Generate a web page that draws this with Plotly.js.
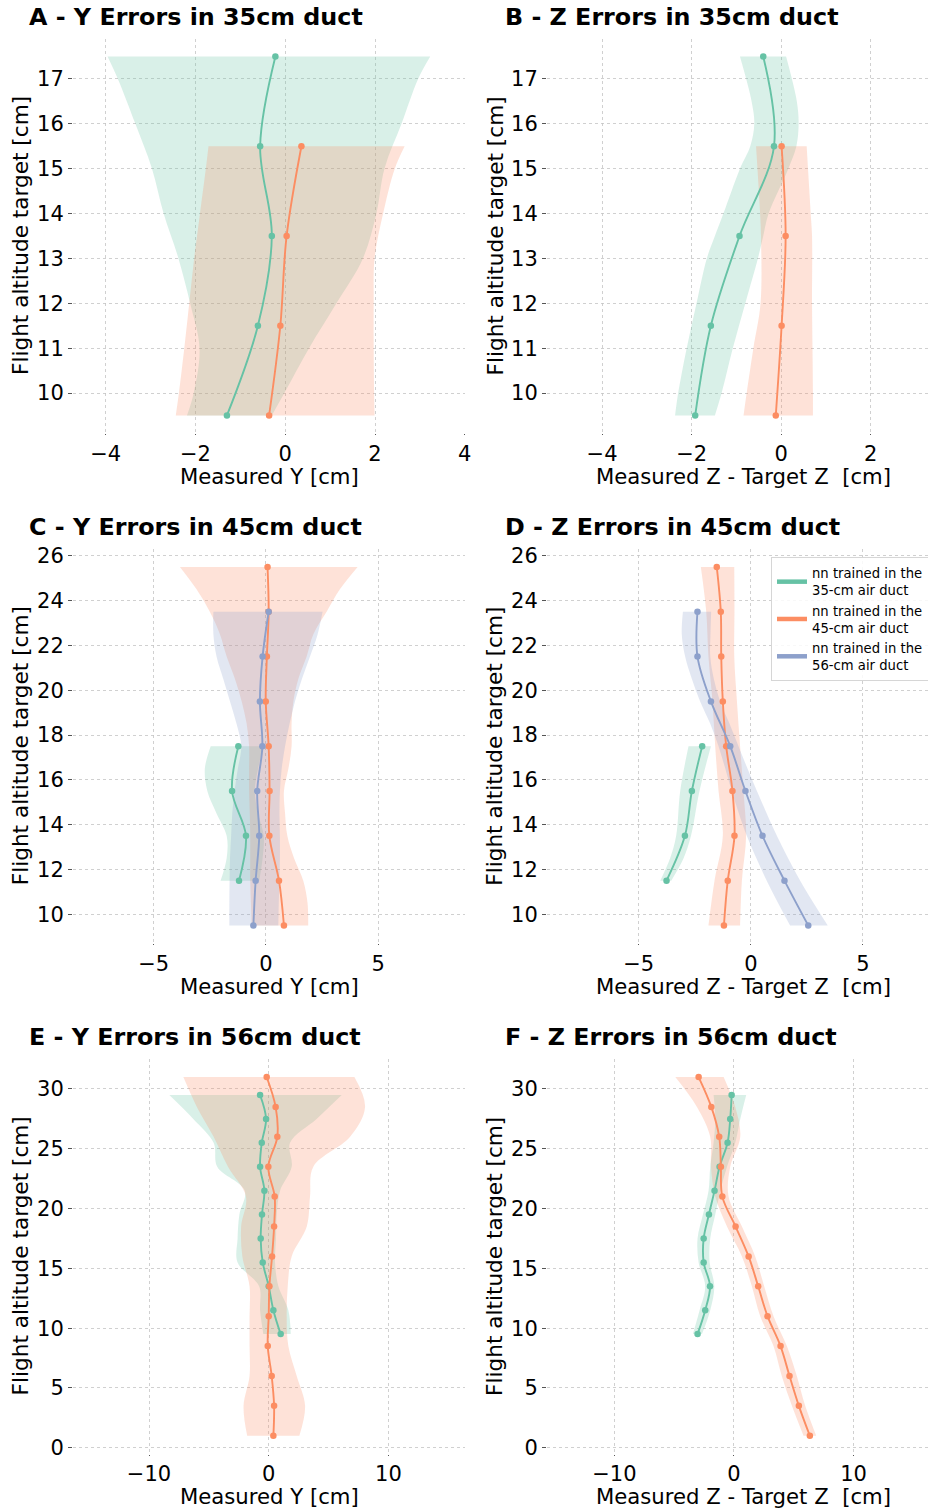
<!DOCTYPE html>
<html><head><meta charset="utf-8">
<script src="https://cdn.plot.ly/plotly-3.0.1.min.js"></script>
<style>html,body{margin:0;padding:0;background:#fff}#chart{width:928px;height:1510px}</style>
</head><body><div id="chart"></div>
<script>
// ---------- colours ----------
const GREEN = '#66c2a5', ORANGE = '#fc8d62', BLUE = '#8da0cb';
const GREEN_F = 'rgba(102,194,165,0.25)', ORANGE_F = 'rgba(252,141,98,0.25)', BLUE_F = 'rgba(141,160,203,0.25)';

// ---------- Panel A : Y errors, 35cm duct ----------
const A_green_y = [17.5, 15.5, 13.5, 11.5, 9.5];
const A_green_x = [-0.22, -0.56, -0.30, -0.61, -1.30];
const A_orange_y = [15.5, 13.5, 11.5, 9.5];
const A_orange_x = [0.36, 0.03, -0.11, -0.36];
const A_greenBand_y = [17.5, 17, 16, 15, 14, 13, 12, 11, 10, 9.5];
const A_greenBand_lo = [-3.96, -3.73, -3.34, -2.97, -2.71, -2.38, -2.12, -1.91, -2.04, -2.19];
const A_greenBand_hi = [3.23, 2.96, 2.59, 2.21, 2.03, 1.73, 1.14, 0.53, -0.02, -0.30];
const A_orangeBand_y = [15.5, 15, 14, 13, 12, 11, 10, 9.5];
const A_orangeBand_lo = [-1.71, -1.77, -1.90, -2.03, -2.14, -2.25, -2.37, -2.44];
const A_orangeBand_hi = [2.66, 2.44, 2.18, 1.99, 1.97, 1.97, 1.98, 1.99];

// ---------- Panel B : Z errors, 35cm duct ----------
const B_green_y = [17.5, 15.5, 13.5, 11.5, 9.5];
const B_green_x = [-0.40, -0.16, -0.93, -1.57, -1.92];
const B_orange_y = [15.5, 13.5, 11.5, 9.5];
const B_orange_x = [0.01, 0.10, 0.01, -0.12];
const B_greenBand_y = [17.5, 16.5, 16, 15.5, 15, 14, 13.5, 13, 12, 11, 10, 9.5];
const B_greenBand_lo = [-0.92, -0.66, -0.60, -0.69, -0.92, -1.29, -1.48, -1.66, -1.89, -2.11, -2.30, -2.37];
const B_greenBand_hi = [0.11, 0.35, 0.39, 0.34, 0.16, -0.28, -0.40, -0.52, -0.80, -1.08, -1.33, -1.48];
const B_orangeBand_y = [15.5, 14, 13.5, 12, 11, 10, 9.5];
const B_orangeBand_lo = [-0.56, -0.47, -0.45, -0.46, -0.62, -0.77, -0.84];
const B_orangeBand_hi = [0.57, 0.66, 0.69, 0.69, 0.70, 0.71, 0.71];

// ---------- Panel C : Y errors, 45cm duct ----------
const C_orange_y = [25.5, 23.5, 21.5, 19.5, 17.5, 15.5, 13.5, 11.5, 9.5];
const C_orange_x = [0.07, 0.12, 0.04, -0.01, 0.12, 0.16, 0.15, 0.58, 0.80];
const C_blue_y = [23.5, 21.5, 19.5, 17.5, 15.5, 13.5, 11.5, 9.5];
const C_blue_x = [0.12, -0.15, -0.27, -0.16, -0.39, -0.30, -0.46, -0.56];
const C_green_y = [17.5, 15.5, 13.5, 11.5];
const C_green_x = [-1.23, -1.51, -0.89, -1.20];
const C_orangeBand_y = [25.5, 24.5, 23.5, 22.5, 21.5, 20.5, 19.5, 18.5, 17.5, 16.5, 15.5, 14.5, 13.5, 12.5, 11.5, 10.5, 9.5];
const C_orangeBand_lo = [-3.83, -3.09, -2.50, -2.05, -1.75, -1.38, -1.08, -0.86, -0.75, -0.75, -0.75, -0.72, -0.70, -0.70, -0.70, -0.67, -0.64];
const C_orangeBand_hi = [4.08, 3.29, 2.70, 2.11, 1.81, 1.44, 1.22, 1.14, 1.14, 1.00, 0.80, 0.85, 0.95, 1.25, 1.66, 1.85, 1.88];
const C_blueBand_y = [23.5, 22.5, 21.5, 20.5, 19.5, 18.5, 17.5, 16.5, 15.5, 14.5, 13.5, 12.5, 11.5, 10.5, 9.5];
const C_blueBand_lo = [-2.34, -2.34, -2.20, -1.90, -1.60, -1.31, -1.10, -1.25, -1.40, -1.50, -1.55, -1.60, -1.62, -1.63, -1.63];
const C_blueBand_hi = [2.52, 2.30, 1.96, 1.60, 1.29, 1.05, 0.85, 0.70, 0.62, 0.60, 0.62, 0.62, 0.60, 0.57, 0.55];
const C_greenBand_y = [17.5, 16.5, 15.5, 14.5, 13.5, 12.5, 11.5];
const C_greenBand_lo = [-2.46, -2.72, -2.61, -2.20, -1.75, -1.75, -2.02];
const C_greenBand_hi = [-0.12, -0.35, -0.50, -0.35, -0.10, -0.15, -0.30];

// ---------- Panel D : Z errors, 45cm duct ----------
const D_orange_y = [25.5, 23.5, 21.5, 19.5, 17.5, 15.5, 13.5, 11.5, 9.5];
const D_orange_x = [-1.52, -1.34, -1.32, -1.25, -1.10, -0.82, -0.73, -1.03, -1.20];
const D_blue_y = [23.5, 21.5, 19.5, 17.5, 15.5, 13.5, 11.5, 9.5];
const D_blue_x = [-2.38, -2.38, -1.78, -0.92, -0.24, 0.52, 1.50, 2.56];
const D_green_y = [17.5, 15.5, 13.5, 11.5];
const D_green_x = [-2.17, -2.63, -2.94, -3.76];
const D_orangeBand_y = [25.5, 23.5, 21.5, 19.5, 17.5, 15.5, 13.5, 11.5, 9.5];
const D_orangeBand_lo = [-2.23, -1.99, -1.89, -1.71, -1.59, -1.44, -1.25, -1.62, -1.89];
const D_orangeBand_hi = [-0.74, -0.73, -0.74, -0.62, -0.48, -0.33, -0.21, -0.40, -0.48];
const D_blueBand_y = [23.5, 22.5, 21.5, 20.5, 19.5, 18.5, 17.5, 16.5, 15.5, 13.5, 11.5, 9.5];
const D_blueBand_lo = [-3.03, -3.08, -2.93, -2.63, -2.26, -1.81, -1.44, -1.14, -0.85, -0.18, 0.71, 1.75];
const D_blueBand_hi = [-1.77, -1.80, -1.81, -1.65, -1.37, -0.95, -0.55, -0.15, 0.27, 1.16, 2.20, 3.43];
const D_greenBand_y = [17.5, 15.5, 13.5, 12.5, 11.5];
const D_greenBand_lo = [-2.78, -3.15, -3.33, -3.60, -4.04];
const D_greenBand_hi = [-1.78, -2.29, -2.67, -3.00, -3.55];

// ---------- Panel E : Y errors, 56cm duct ----------
const E_orange_y = [31, 28.5, 26, 23.5, 21, 18.5, 16, 13.5, 11, 8.5, 6, 3.5, 1];
const E_orange_x = [-0.17, 0.58, 0.72, -0.03, 0.50, 0.45, 0.28, 0.06, 0.00, -0.08, 0.25, 0.45, 0.39];
const E_green_y = [29.5, 27.5, 25.5, 23.5, 21.5, 19.5, 17.5, 15.5, 13.5, 11.5, 9.5];
const E_green_x = [-0.72, -0.22, -0.58, -0.72, -0.36, -0.56, -0.67, -0.50, 0.00, 0.39, 1.00];
const E_orangeBand_lo = [-7.13, -6.0, -4.6, -3.4, -1.9, -2.3, -2.2, -1.6, -1.6, -1.6, -1.6, -2.1, -1.8];
const E_orangeBand_hi = [7.16, 8.05, 6.8, 3.73, 3.45, 3.18, 1.92, 1.59, 1.50, 1.64, 2.34, 3.04, 2.56];
const E_greenBand_lo = [-8.3, -6.3, -4.6, -4.3, -2.0, -2.45, -2.6, -2.6, -0.8, -0.72, -0.45];
const E_greenBand_hi = [6.1, 4.0, 1.78, 1.92, 0.95, 0.67, 0.61, 0.53, 0.81, 1.64, 1.84];

// ---------- Panel F : Z errors, 56cm duct ----------
const F_orange_y = [31, 28.5, 26, 23.5, 21, 18.5, 16, 13.5, 11, 8.5, 6, 3.5, 1];
const F_orange_x = [-2.95, -1.89, -1.23, -1.09, -0.97, 0.14, 1.23, 2.03, 2.81, 3.90, 4.65, 5.43, 6.35];
const F_green_y = [29.5, 27.5, 25.5, 23.5, 21.5, 19.5, 17.5, 15.5, 13.5, 11.5, 9.5];
const F_green_x = [-0.19, -0.31, -0.53, -1.20, -1.62, -2.09, -2.53, -2.53, -2.00, -2.40, -3.04];
const F_orangeBand_lo = [-4.9, -3.09, -1.98, -1.92, -1.56, -0.58, 0.67, 1.50, 2.20, 3.31, 4.00, 4.85, 5.82];
const F_orangeBand_hi = [-0.86, 0.11, 0.53, -0.31, -0.45, 0.67, 1.78, 2.53, 3.31, 4.43, 5.26, 5.96, 6.88];
const F_greenBand_lo = [-1.70, -1.56, -1.70, -1.98, -2.12, -2.59, -3.04, -2.95, -2.40, -2.87, -3.43];
const F_greenBand_hi = [1.03, 0.53, 0.11, -0.58, -1.14, -1.56, -1.98, -2.03, -1.64, -1.98, -2.67];

// ---------- text ----------
const panelTitles = ['A - Y Errors in 35cm duct', 'B - Z Errors in 35cm duct',
  'C - Y Errors in 45cm duct', 'D - Z Errors in 45cm duct',
  'E - Y Errors in 56cm duct', 'F - Z Errors in 56cm duct'];
const xLabels = ['Measured Y [cm]', 'Measured Z - Target Z  [cm]'];
const yLabel = 'Flight altitude target [cm]';
const legendNames = ['nn trained in the<br>35-cm air duct', 'nn trained in the<br>45-cm air duct', 'nn trained in the<br>56-cm air duct'];

// ---------- geometry ----------
const W = 928, H = 1510;
const fx = px => px / W;
const fy = px => 1 - px / H;
const colPx = [[73, 465], [547, 928]];
const rowPx = [[38.6, 433.4], [549.0, 943.4], [1059.1, 1453.7]];
const xRanges = [[-4.73, 4.005], [-5.23, 3.28], [-8.59, 8.86], [-9.09, 7.9], [-16.35, 16.4], [-15.63, 16.23]];
const yRanges = [[9.1, 17.9], [8.7, 26.3], [-0.5, 32.5]];
const xDticks = [2, 5, 10];
const yDticks = [1, 2, 5];

const traces = [];
function ax(i) { return i === 0 ? ['x', 'y'] : ['x' + (i + 1), 'y' + (i + 1)]; }
function band(i, ys, lo, hi, fill) {
  const [xa, ya] = ax(i);
  traces.push({ x: lo, y: ys, xaxis: xa, yaxis: ya, mode: 'lines', line: { width: 0, shape: 'spline', color: fill },
    showlegend: false, hoverinfo: 'skip' });
  traces.push({ x: hi, y: ys, xaxis: xa, yaxis: ya, mode: 'lines', line: { width: 0, shape: 'spline', color: fill },
    fill: 'tonextx', fillcolor: fill, showlegend: false, hoverinfo: 'skip' });
}
function line(i, xs, ys, color) {
  const [xa, ya] = ax(i);
  traces.push({ x: xs, y: ys, xaxis: xa, yaxis: ya, mode: 'lines+markers',
    line: { color: color, width: 1.9, shape: 'spline' }, marker: { color: color, size: 6.5 }, showlegend: false });
}

// bands
band(0, A_greenBand_y, A_greenBand_lo, A_greenBand_hi, GREEN_F);
band(0, A_orangeBand_y, A_orangeBand_lo, A_orangeBand_hi, ORANGE_F);
band(1, B_greenBand_y, B_greenBand_lo, B_greenBand_hi, GREEN_F);
band(1, B_orangeBand_y, B_orangeBand_lo, B_orangeBand_hi, ORANGE_F);
band(2, C_greenBand_y, C_greenBand_lo, C_greenBand_hi, GREEN_F);
band(2, C_orangeBand_y, C_orangeBand_lo, C_orangeBand_hi, ORANGE_F);
band(2, C_blueBand_y, C_blueBand_lo, C_blueBand_hi, BLUE_F);
band(3, D_greenBand_y, D_greenBand_lo, D_greenBand_hi, GREEN_F);
band(3, D_orangeBand_y, D_orangeBand_lo, D_orangeBand_hi, ORANGE_F);
band(3, D_blueBand_y, D_blueBand_lo, D_blueBand_hi, BLUE_F);
band(4, E_green_y, E_greenBand_lo, E_greenBand_hi, GREEN_F);
band(4, E_orange_y, E_orangeBand_lo, E_orangeBand_hi, ORANGE_F);
band(5, F_green_y, F_greenBand_lo, F_greenBand_hi, GREEN_F);
band(5, F_orange_y, F_orangeBand_lo, F_orangeBand_hi, ORANGE_F);
// lines
line(0, A_green_x, A_green_y, GREEN); line(0, A_orange_x, A_orange_y, ORANGE);
line(1, B_green_x, B_green_y, GREEN); line(1, B_orange_x, B_orange_y, ORANGE);
line(2, C_green_x, C_green_y, GREEN); line(2, C_orange_x, C_orange_y, ORANGE); line(2, C_blue_x, C_blue_y, BLUE);
line(3, D_green_x, D_green_y, GREEN); line(3, D_orange_x, D_orange_y, ORANGE); line(3, D_blue_x, D_blue_y, BLUE);
line(4, E_green_x, E_green_y, GREEN); line(4, E_orange_x, E_orange_y, ORANGE);
line(5, F_green_x, F_green_y, GREEN); line(5, F_orange_x, F_orange_y, ORANGE);
// legend entries (panel D)
[GREEN, ORANGE, BLUE].forEach((c, k) => {
  traces.push({ x: [null], y: [null], xaxis: 'x4', yaxis: 'y4', mode: 'lines', name: legendNames[k],
    line: { color: c, width: 4.5 }, showlegend: true, hoverinfo: 'skip' });
});

const FONT = 'DejaVu Sans, Verdana, sans-serif';
const layout = {
  width: W, height: H, paper_bgcolor: '#fff', plot_bgcolor: 'rgba(0,0,0,0)',
  margin: { l: 0, r: 0, t: 0, b: 0, pad: 0, autoexpand: false },
  font: { family: FONT, color: '#000', size: 21 },
  showlegend: true,
  legend: { x: fx(771), y: fy(557), xanchor: 'left', yanchor: 'top', bgcolor: 'rgba(255,255,255,0.85)',
    bordercolor: '#d6d6d6', borderwidth: 1, font: { size: 13.2, family: FONT }, itemwidth: 30, tracegroupgap: 0,
    traceorder: 'normal' },
  annotations: []
};
for (let i = 0; i < 6; i++) {
  const col = i % 2, row = Math.floor(i / 2);
  const xn = i === 0 ? 'xaxis' : 'xaxis' + (i + 1);
  const yn = i === 0 ? 'yaxis' : 'yaxis' + (i + 1);
  const [xa, ya] = ax(i);
  layout[xn] = { domain: [fx(colPx[col][0]), fx(colPx[col][1])], range: xRanges[i], anchor: ya,
    dtick: xDticks[row], tick0: 0, showgrid: true, gridcolor: '#c4c4c4', griddash: 'dot', gridwidth: 0.8,
    zeroline: false, showline: false, ticks: 'outside', ticklen: 1, tickcolor: '#555', tickwidth: 1,
    tickfont: { size: 21 }, fixedrange: true };
  layout[yn] = { domain: [fy(rowPx[row][1]), fy(rowPx[row][0])], range: yRanges[row], anchor: xa,
    dtick: yDticks[row], tick0: 0, showgrid: true, gridcolor: '#c4c4c4', griddash: 'dot', gridwidth: 0.8,
    zeroline: false, showline: false, ticks: 'outside', ticklen: 4, tickcolor: '#555', tickwidth: 1,
    tickfont: { size: 21 }, fixedrange: true };
  // panel title
  layout.annotations.push({ text: '<b>' + panelTitles[i] + '</b>', xref: 'paper', yref: 'paper',
    x: fx(col === 0 ? 27 : 503), y: fy([17, 526.5, 1036.5][row]), xanchor: 'left', yanchor: 'middle',
    showarrow: false, font: { size: 23.8, family: FONT, color: '#000' } });
  // x label
  layout.annotations.push({ text: xLabels[col], xref: 'paper', yref: 'paper',
    x: fx(col === 0 ? 269 : 743.5), y: fy(rowPx[row][1] + 43), xanchor: 'center', yanchor: 'middle',
    showarrow: false, font: { size: 21.2, family: FONT, color: '#000' } });
  // y label
  layout.annotations.push({ text: yLabel, xref: 'paper', yref: 'paper', textangle: -90,
    x: fx(col === 0 ? 20 : 494.5), y: fy((rowPx[row][0] + rowPx[row][1]) / 2), xanchor: 'center', yanchor: 'middle',
    showarrow: false, font: { size: 21.6, family: FONT, color: '#000' } });
}
Plotly.newPlot('chart', traces, layout, { staticPlot: true });
</script></body></html>
